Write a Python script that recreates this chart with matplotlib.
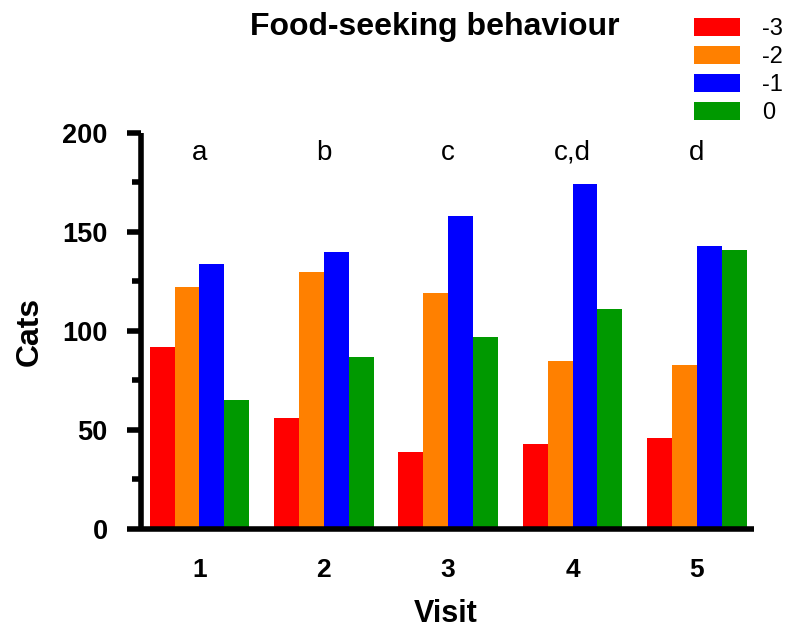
import matplotlib
matplotlib.use("Agg")
import matplotlib.pyplot as plt
import numpy as np
from matplotlib.ticker import MultipleLocator

plt.rcParams['font.family'] = ['Liberation Sans', 'DejaVu Sans']

visits = ['1', '2', '3', '4', '5']
series_labels = ['-3', '-2', '-1', '0']
vals_m3 = [92, 56, 39, 43, 46]
vals_m2 = [122, 130, 119, 85, 83]
vals_m1 = [134, 140, 158, 174, 143]
vals_0 = [65, 87, 97, 111, 141]
letters = ['a', 'b', 'c', 'c,d', 'd']
colors = ['#ff0000', '#ff8000', '#0000ff', '#009900']

fig = plt.figure(figsize=(7.88, 6.32), dpi=100)
ax = fig.add_axes([0.179, 0.163, 0.778, 0.6266])

x = np.arange(len(visits))
w = 0.2
series = [vals_m3, vals_m2, vals_m1, vals_0]
for i, (vals, c, lab) in enumerate(zip(series, colors, series_labels)):
    ax.bar(x + (i - 1.5) * w, vals, width=w, color=c, label=lab, edgecolor='none')

for xi, t in zip(x, letters):
    ax.text(xi, 190, t, ha='center', va='center', fontsize=20)

ax.set_xlim(-0.47, 4.46)
ax.set_ylim(0, 200)
ax.set_xticks(x)
ax.set_xticklabels(visits, fontsize=19, fontweight='bold')
ax.yaxis.set_major_locator(MultipleLocator(50))
ax.yaxis.set_minor_locator(MultipleLocator(25))
ax.tick_params(axis='y', which='major', length=10, width=4, labelsize=19.5, pad=14)
ax.tick_params(axis='y', which='minor', length=6.5, width=4)
ax.tick_params(axis='x', which='both', length=0, pad=21)
for lbl in ax.get_yticklabels():
    lbl.set_fontweight('bold')
for s in ['top', 'right']:
    ax.spines[s].set_visible(False)
for s in ['left', 'bottom']:
    ax.spines[s].set_linewidth(4)
    ax.spines[s].set_capstyle('butt')

ax.set_ylabel('Cats', fontsize=23, fontweight='bold')
ax.yaxis.set_label_coords(-0.157, 0.5)
ax.set_xlabel('Visit', fontsize=22, fontweight='bold')
ax.xaxis.set_label_coords(0.497, -0.177)

fig.text(0.552, 0.958, 'Food-seeking behaviour', ha='center', va='center',
         fontsize=23, fontweight='bold')

leg = fig.legend(loc='upper right', bbox_to_anchor=(0.9937, 0.972), frameon=False,
                 fontsize=17, handlelength=1.95, handleheight=0.8,
                 labelspacing=0.25, handletextpad=0.93, borderaxespad=0,
                 borderpad=0)

fig.savefig('out.png', dpi=100)
